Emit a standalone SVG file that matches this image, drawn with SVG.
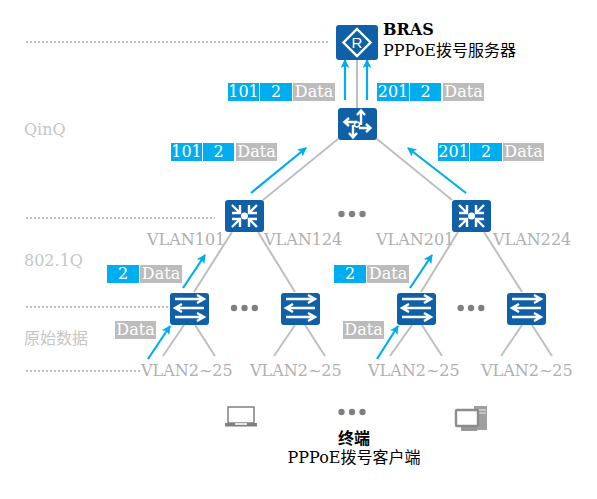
<svg xmlns="http://www.w3.org/2000/svg" width="597" height="499" viewBox="0 0 597 499">
<defs>
<style>
text{font-family:"DejaVu Serif","Noto Sans CJK SC",serif;font-size:16px}
.l{fill:#b0b0b0}
.m{fill:#c6c6c6}
.p{fill:#fff;text-anchor:middle}
.k{fill:#000}
.b{font-weight:bold}
.c{fill:#00aeef}.g{fill:#bcbcbc}
.n{fill:#1060a8}
.w{fill:none;stroke:#fff;stroke-width:2.4}
.link{stroke:#bfbfbf;stroke-width:2;fill:none}
.dot{stroke:#bfbfbf;stroke-width:2;stroke-dasharray:2 2;fill:none}
.arr{stroke:#00aeef;stroke-width:2.2;fill:none;marker-end:url(#a)}
.d{fill:#808080}
</style>
<marker id="a" markerWidth="10" markerHeight="10" refX="8" refY="4.500" orient="auto" markerUnits="userSpaceOnUse"><path d="M0 0L9 4.500L0 9L2 4.500z" fill="#00aeef"/></marker>
<g id="sw"><rect width="39" height="32" rx="3" class="n"/><path class="w" d="M5 6H33M27 2L34 6L27 10M34 15H6M12 11L5 15L12 19M5 24H33M27 20L34 24L27 28"/></g>
<g id="ag"><rect width="39" height="32" rx="3" class="n"/><path class="w" d="M7 5L14 12M15 5V13H7M32 5L25 12M24 5V13H32M7 27L14 20M15 27V19H7M32 27L25 20M24 27V19H32"/><circle cx="19.500" cy="16" r="3.500" fill="#fff"/></g>
</defs>
<g id="connectors">
<path class="link" d="M357 60V108M338 139L263 200M377 139L452 200M232 232L194 292M258 232L295 292M458 232L421 292M484 232L522 292M184 325L163 356M195 325L215 356M295 325L274 356M305 325L325 356M412 325L390 356M422 325L442 356M522 325L501 356M532 325L552 356"/>
<path class="dot" d="M26 42H330M26 218H215M26 307H168M26 371H140"/>
<path class="arr" d="M345 100V60"/><path class="arr" d="M367 100V60"/><path class="arr" d="M251 193L306 148"/><path class="arr" d="M466 193L408 148"/><path class="arr" d="M183 288L205 255"/><path class="arr" d="M148 359L170 326"/><path class="arr" d="M410 288L432 255"/><path class="arr" d="M377 359L398 326"/>
</g>
<g id="bras"><rect x="336" y="25" width="42" height="35" rx="3" class="n"/><path class="w" d="M357 29L370.500 42.500L357 56L343.500 42.500z"/><text x="357" y="48" fill="#fff" text-anchor="middle" style="font-family:'Liberation Sans',sans-serif;font-size:15px">R</text><text x="383" y="35" class="k b">BRAS</text><text x="383" y="56" class="k">PPPoE拨号服务器</text></g>
<g id="core"><rect x="338" y="108" width="39" height="32" rx="3" class="n"/><path class="w" d="M361 111V125M357 115L361 110.500L365 115M357 122H345M349 118L344.500 122L349 126M353 125V137M349 133L353 137.500L357 133M359 128H370M366 124L370.500 128L366 132"/><circle cx="357" cy="124.500" r="2.500" fill="none" stroke="#fff" stroke-width="1.500"/></g>
<g id="agg1"><use href="#ag" x="225" y="200"/></g>
<g id="agg2"><use href="#ag" x="452" y="200"/></g>
<g id="sw1"><use href="#sw" x="170" y="293"/></g>
<g id="sw2"><use href="#sw" x="281" y="293"/></g>
<g id="sw3"><use href="#sw" x="397" y="293"/></g>
<g id="sw4"><use href="#sw" x="507" y="293"/></g>
<g id="dots1" class="d"><circle cx="341.500" cy="214" r="3.200"/><circle cx="352" cy="214" r="3.200"/><circle cx="362.500" cy="214" r="3.200"/></g>
<g id="dots2" class="d"><circle cx="234" cy="308" r="3.200"/><circle cx="244.500" cy="308" r="3.200"/><circle cx="254.800" cy="308" r="3.200"/></g>
<g id="dots3" class="d"><circle cx="460.700" cy="308" r="3.200"/><circle cx="471" cy="308" r="3.200"/><circle cx="481.300" cy="308" r="3.200"/></g>
<g id="dots4" class="d"><circle cx="341.500" cy="412" r="3.200"/><circle cx="352" cy="412" r="3.200"/><circle cx="362.500" cy="412" r="3.200"/></g>
<g id="laptop"><rect x="228" y="407" width="26" height="16" fill="#fff" stroke="#808080" stroke-width="1.500"/><path d="M225 423H257V426.500H225z" class="d"/><rect x="235" y="423" width="12" height="2" fill="#e4e4e4"/></g>
<g id="pc"><rect x="474" y="406" width="13" height="24" fill="#a0a0a0"/><path d="M478 410H486M478 413H486" stroke="#e8e8e8" stroke-width="1"/><rect x="461" y="427" width="16" height="4" fill="#999"/><rect x="456" y="410" width="22" height="16" rx="1" fill="#fff" stroke="#8c8c8c" stroke-width="2.400"/></g>
<g id="labels">
<text x="24" y="135" class="m">QinQ</text><text x="24" y="266" class="m">802.1Q</text><text x="24" y="344" class="m">原始数据</text>
<text x="147" y="245" class="l">VLAN101</text><text x="264" y="245" class="l">VLAN124</text><text x="376" y="245" class="l">VLAN201</text><text x="493" y="245" class="l">VLAN224</text>
<text x="141" y="376" class="l">VLAN2~25</text><text x="250" y="376" class="l">VLAN2~25</text><text x="368" y="376" class="l">VLAN2~25</text><text x="481" y="376" class="l">VLAN2~25</text>
<text x="354" y="444" class="k b" text-anchor="middle">终端</text><text x="354" y="463" class="k" text-anchor="middle">PPPoE拨号客户端</text>
</g>
<g id="tags">
<rect x="228" y="83" width="31" height="18" class="c"/><rect x="260" y="83" width="32" height="18" class="c"/><rect x="293" y="83" width="42" height="18" class="g"/><text x="243.500" y="97" class="p">101</text><text x="276" y="97" class="p">2</text><text x="314" y="97" class="p">Data</text>
<rect x="377" y="83" width="32" height="18" class="c"/><rect x="410" y="83" width="31" height="18" class="c"/><rect x="443" y="83" width="41" height="18" class="g"/><text x="393" y="97" class="p">201</text><text x="425.500" y="97" class="p">2</text><text x="463.500" y="97" class="p">Data</text>
<rect x="171" y="143" width="31" height="18" class="c"/><rect x="203" y="143" width="31" height="18" class="c"/><rect x="236" y="143" width="41" height="18" class="g"/><text x="186.500" y="157" class="p">101</text><text x="218.500" y="157" class="p">2</text><text x="256.500" y="157" class="p">Data</text>
<rect x="438" y="143" width="31" height="18" class="c"/><rect x="470" y="143" width="32" height="18" class="c"/><rect x="503" y="143" width="41" height="18" class="g"/><text x="453.500" y="157" class="p">201</text><text x="486" y="157" class="p">2</text><text x="523.500" y="157" class="p">Data</text>
<rect x="107" y="265" width="32" height="18" class="c"/><rect x="140" y="265" width="42" height="18" class="g"/><text x="123" y="279" class="p">2</text><text x="161" y="279" class="p">Data</text>
<rect x="334" y="265" width="32" height="18" class="c"/><rect x="367" y="265" width="42" height="18" class="g"/><text x="350" y="279" class="p">2</text><text x="388" y="279" class="p">Data</text>
<rect x="115" y="321" width="41" height="18" class="g"/><text x="135.500" y="335" class="p">Data</text>
<rect x="343" y="321" width="41" height="18" class="g"/><text x="363.500" y="335" class="p">Data</text>
</g>
</svg>
